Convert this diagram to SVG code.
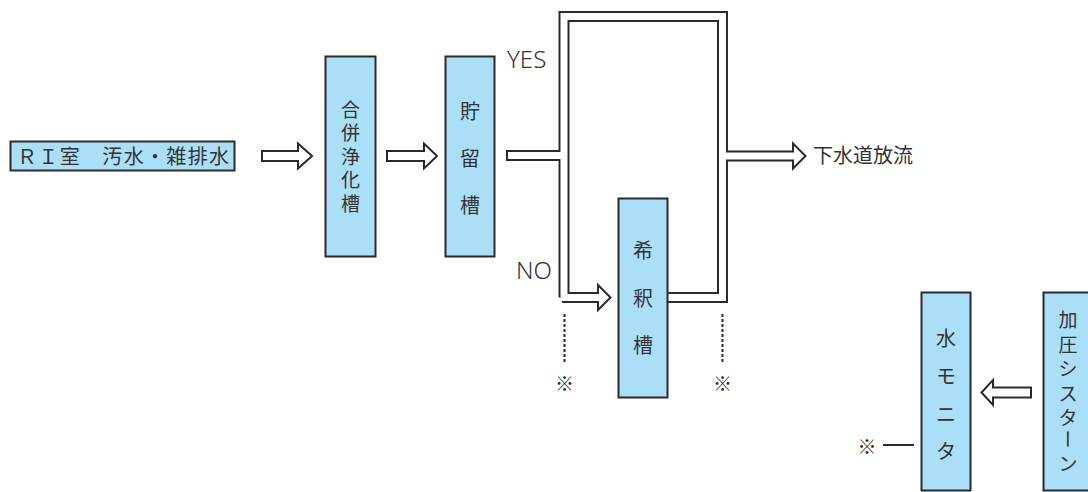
<svg xmlns="http://www.w3.org/2000/svg" width="1088" height="492" viewBox="0 0 1088 492">
  <style>
    .box { fill: #abdff8; stroke: #2a2a2a; stroke-width: 2; }
    .t { font-family: "Noto Sans CJK JP", "Noto Sans", sans-serif; font-size: 20px; fill: #333; }
    .s { font-size: 19px; }
    .v { text-anchor: middle; dominant-baseline: central; }
    .mark { font-size: 19px; font-weight: 700; fill: #2a2a2a; }
    .lbl { font-family: "Noto Sans", "Liberation Sans", sans-serif; font-size: 24px; fill: #333; font-weight: 300; }
    .blk { fill: #fff; stroke: #2a2a2a; stroke-width: 2; stroke-linejoin: miter; }
    .pipeOut { fill: none; stroke: #2a2a2a; stroke-width: 11; stroke-linejoin: miter; stroke-linecap: butt; }
    .pipeIn { fill: none; stroke: #fff; stroke-width: 7; stroke-linejoin: miter; stroke-linecap: butt; }
    .dash { stroke: #2a2a2a; stroke-width: 2; stroke-dasharray: 3 2; fill: none; }
    .thin { stroke: #2a2a2a; stroke-width: 2; fill: none; }
  </style>

  <rect width="1088" height="492" fill="#fff"/>

  <g id="connectors">
    <!-- block arrows between stages -->
    <polygon class="blk" points="262,151 298,151 298,143.5 312,156 298,168.5 298,161 262,161"/>
    <polygon class="blk" points="387,151 424,151 424,143.5 437,156 424,168.5 424,161 387,161"/>
    <polygon class="blk" points="1031,387.5 993,387.5 993,380 981.5,392.5 993,405 993,397.5 1031,397.5"/>

    <!-- bypass / dilution pipe network: dark outline pass -->
    <path class="pipeOut" d="M506,155.5 H566"/>
    <path class="pipeOut" d="M564,297.5 V16.5 H722.5 V297.5 H668"/>
    <path class="pipeOut" d="M562,297.5 H599"/>
    <path class="pipeOut" d="M720,156 H794"/>
    <!-- arrow heads -->
    <polygon class="blk" points="598,285 610.5,297.5 598,310"/>
    <polygon class="blk" points="793,143.5 805.5,156 793,168.5"/>
    <!-- white interior pass -->
    <path class="pipeIn" d="M508,155.5 H566"/>
    <path class="pipeIn" d="M564,297.5 V16.5 H722.5 V297.5 H666"/>
    <path class="pipeIn" d="M562,297.5 H600"/>
    <path class="pipeIn" d="M720,156 H795"/>

    <!-- sampling points -->
    <line class="dash" x1="564.5" y1="314" x2="564.5" y2="364"/>
    <line class="dash" x1="722.5" y1="314" x2="722.5" y2="364"/>
    <line class="thin" x1="883" y1="445" x2="914" y2="445"/>

    <text class="lbl" x="507" y="68">YES</text>
    <text class="lbl" x="516" y="279">NO</text>
    <text class="t v mark" x="564.5" y="382">※</text>
    <text class="t v mark" x="722.5" y="382">※</text>
    <text class="t v mark" x="867" y="445">※</text>
    <text class="t" x="813" y="163" font-size="21">下水道放流</text>
  </g>

  <g id="ri-room">
    <rect class="box" x="10.5" y="141.5" width="224" height="29"/>
    <text class="t" x="17" y="163.5" font-size="21" textLength="212">ＲＩ室　汚水・雑排水</text>
  </g>

  <g id="septic-tank">
    <rect class="box" x="325.5" y="56.5" width="50" height="200"/>
    <text class="t s v" x="350.5" y="108">合</text>
    <text class="t s v" x="350.5" y="131.5">併</text>
    <text class="t s v" x="350.5" y="155">浄</text>
    <text class="t s v" x="350.5" y="178.5">化</text>
    <text class="t s v" x="350.5" y="202">槽</text>
  </g>

  <g id="storage-tank">
    <rect class="box" x="445.5" y="56.5" width="49" height="200"/>
    <text class="t v" x="470" y="110">貯</text>
    <text class="t v" x="470" y="157">留</text>
    <text class="t v" x="470" y="204">槽</text>
  </g>

  <g id="dilution-tank">
    <rect class="box" x="618.5" y="198.5" width="49" height="199"/>
    <text class="t v" x="643" y="249">希</text>
    <text class="t v" x="643" y="297">釈</text>
    <text class="t v" x="643" y="344">槽</text>
  </g>

  <g id="water-monitor">
    <rect class="box" x="921.5" y="292.5" width="49" height="198"/>
    <text class="t v" x="946" y="337">水</text>
    <text class="t v" x="946" y="375">モ</text>
    <text class="t v" x="946" y="413">ニ</text>
    <text class="t v" x="946" y="450">タ</text>
  </g>

  <g id="pressure-cistern">
    <rect class="box" x="1043.5" y="292.5" width="60" height="198"/>
    <text class="t s v" x="1068" y="318">加</text>
    <text class="t s v" x="1068" y="343">圧</text>
    <text class="t s v" x="1068" y="367">シ</text>
    <text class="t s v" x="1068" y="392">ス</text>
    <text class="t s v" x="1068" y="416">タ</text>
    <text class="t s v" x="1068" y="439" transform="rotate(90 1068 439)">ー</text>
    <text class="t s v" x="1068" y="462">ン</text>
  </g>
</svg>
